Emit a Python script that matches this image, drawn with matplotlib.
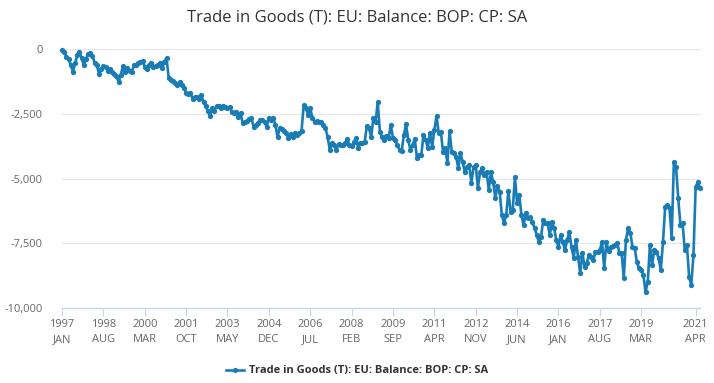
import matplotlib
matplotlib.use("Agg")
import matplotlib.pyplot as plt
from matplotlib.lines import Line2D
import numpy as np

# Monthly values, Jan 1997 .. Jun 2021
y1997 = [-50, -100, -300, -400, -600, -880, -550, -250, -120, -350, -620, -400]
y1998 = [-200, -170, -260, -540, -620, -970, -760, -650, -700, -850, -780, -900]
y1999 = [-950, -1050, -1270, -1000, -660, -900, -740, -850, -900, -620, -600, -540]
y2000 = [-500, -460, -700, -780, -600, -540, -700, -640, -600, -540, -740, -500]
y2001 = [-350, -1120, -1180, -1250, -1310, -1390, -1270, -1400, -1500, -1700, -1720, -1700]
y2002 = [-1930, -1850, -1850, -1930, -1780, -2050, -2200, -2400, -2590, -2280, -2390, -2200]
y2003 = [-2200, -2280, -2200, -2250, -2280, -2240, -2430, -2470, -2430, -2620, -2470, -2860]
y2004 = [-2820, -2780, -2700, -2660, -3010, -2930, -2850, -2740, -2740, -2800, -3010, -2660]
y2005 = [-2740, -2660, -2930, -3400, -3050, -3090, -3150, -3240, -3440, -3280, -3400, -3240]
y2006 = [-3320, -3250, -3170, -2160, -2280, -2550, -2280, -2660, -2820, -2780, -2800, -2820]
y2007 = [-2930, -3050, -3400, -3900, -3630, -3710, -3900, -3670, -3700, -3710, -3630, -3470]
y2008 = [-3710, -3750, -3600, -3440, -3820, -3630, -3630, -3590, -2970, -3050, -3400, -2660]
y2009 = [-2820, -2050, -3200, -3400, -3510, -3360, -3440, -2930, -3440, -3510, -3710, -3900]
y2010 = [-3940, -3320, -2900, -3510, -3900, -3710, -3470, -4210, -4090, -4090, -3320, -3510]
y2011 = [-3820, -3240, -3780, -3130, -2590, -3240, -3200, -3980, -3820, -4400, -3170, -3980]
y2012 = [-4020, -4170, -4590, -4020, -4360, -4750, -4560, -4480, -5170, -4560, -4480, -5370]
y2013 = [-4750, -4590, -4860, -4750, -5440, -4750, -5140, -5750, -5290, -5520, -6410, -6720]
y2014 = [-6410, -5480, -6290, -6220, -4940, -5950, -5640, -6410, -6800, -6330, -6530, -6490]
y2015 = [-6680, -6910, -7180, -7450, -7260, -6600, -6720, -6720, -7180, -6680, -6910, -7370]
y2016 = [-7640, -7180, -7450, -7760, -7370, -7070, -7640, -8070, -7370, -8030, -8650, -7880]
y2017 = [-8420, -8260, -7950, -8030, -8150, -7840, -7840, -7760, -7450, -8460, -7450, -7800]
y2018 = [-7640, -7600, -7570, -7490, -7880, -7880, -8840, -7370, -6910, -7100, -7640, -7680]
y2019 = [-8220, -8460, -8530, -8730, -9380, -9000, -7570, -8340, -7760, -7840, -8070, -8530]
y2020 = [-7450, -6100, -6020, -6140, -7300, -4360, -4560, -5750, -6800, -6720, -7760, -7570]
y2021 = [-8800, -9110, -7950, -5330, -5140, -5370]

series_name = "Trade in Goods (T): EU: Balance: BOP: CP: SA"
tick_months = [0, 19, 38, 57, 76, 95, 114, 133, 152, 171, 190, 209, 228, 247, 266, 291]
tick_labels = ["1997\nJAN", "1998\nAUG", "2000\nMAR", "2001\nOCT", "2003\nMAY", "2004\nDEC",
               "2006\nJUL", "2008\nFEB", "2009\nSEP", "2011\nAPR", "2012\nNOV", "2014\nJUN",
               "2016\nJAN", "2017\nAUG", "2019\nMAR", "2021\nAPR"]
y_ticks = [0, -2500, -5000, -7500, -10000]
y_tick_labels = ["0", "-2,500", "-5,000", "-7,500", "-10,000"]

values = np.array(y1997 + y1998 + y1999 + y2000 + y2001 + y2002 + y2003 + y2004 + y2005 +
                  y2006 + y2007 + y2008 + y2009 + y2010 + y2011 + y2012 + y2013 + y2014 +
                  y2015 + y2016 + y2017 + y2018 + y2019 + y2020 + y2021)
months = np.arange(len(values))

plt.rcParams['font.family'] = ['Open Sans', 'DejaVu Sans']
color = '#1a7cb5'

fig = plt.figure(figsize=(7.14, 3.83), dpi=100)
ax = fig.add_axes([62/714, 1-308/383, (700-62)/714, (308-49)/383])

ax.plot(months, values, color=color, lw=1.9, marker='o', ms=3.8,
        markeredgewidth=0, clip_on=False, zorder=3)

ax.set_xlim(0, len(values) - 1)
ax.set_ylim(-10000, 0)
ax.set_yticks(y_ticks)
ax.set_yticklabels(y_tick_labels)
ax.set_xticks(tick_months)
ax.set_xticklabels(tick_labels)

for s in ['top', 'right', 'left']:
    ax.spines[s].set_visible(False)
ax.spines['bottom'].set_color('#ccd6eb')
ax.spines['bottom'].set_linewidth(1)
ax.grid(axis='y', color='#e6e6e6', lw=0.8)
ax.set_axisbelow(True)
ax.tick_params(axis='y', length=0, pad=14, labelsize=8, labelcolor='#666666')
ax.tick_params(axis='x', length=6, color='#ccd6eb', pad=2, labelsize=8, labelcolor='#666666')
for lbl in ax.get_xticklabels():
    lbl.set_linespacing(1.5)

fig.text(0.5, 1-18/383, series_name, ha='center', va='center', fontsize=12, color='#333333')

handle = Line2D([0], [0], color=color, lw=1.9, marker='o', ms=3.8, markeredgewidth=0)
fig.legend([handle], [series_name], loc='center', bbox_to_anchor=(0.5, 1-371/383),
           frameon=False, prop={'size': 8, 'weight': 'bold'}, handlelength=1.6,
           handletextpad=0.5, labelcolor='#333333')

fig.savefig('out.png', dpi=100)
